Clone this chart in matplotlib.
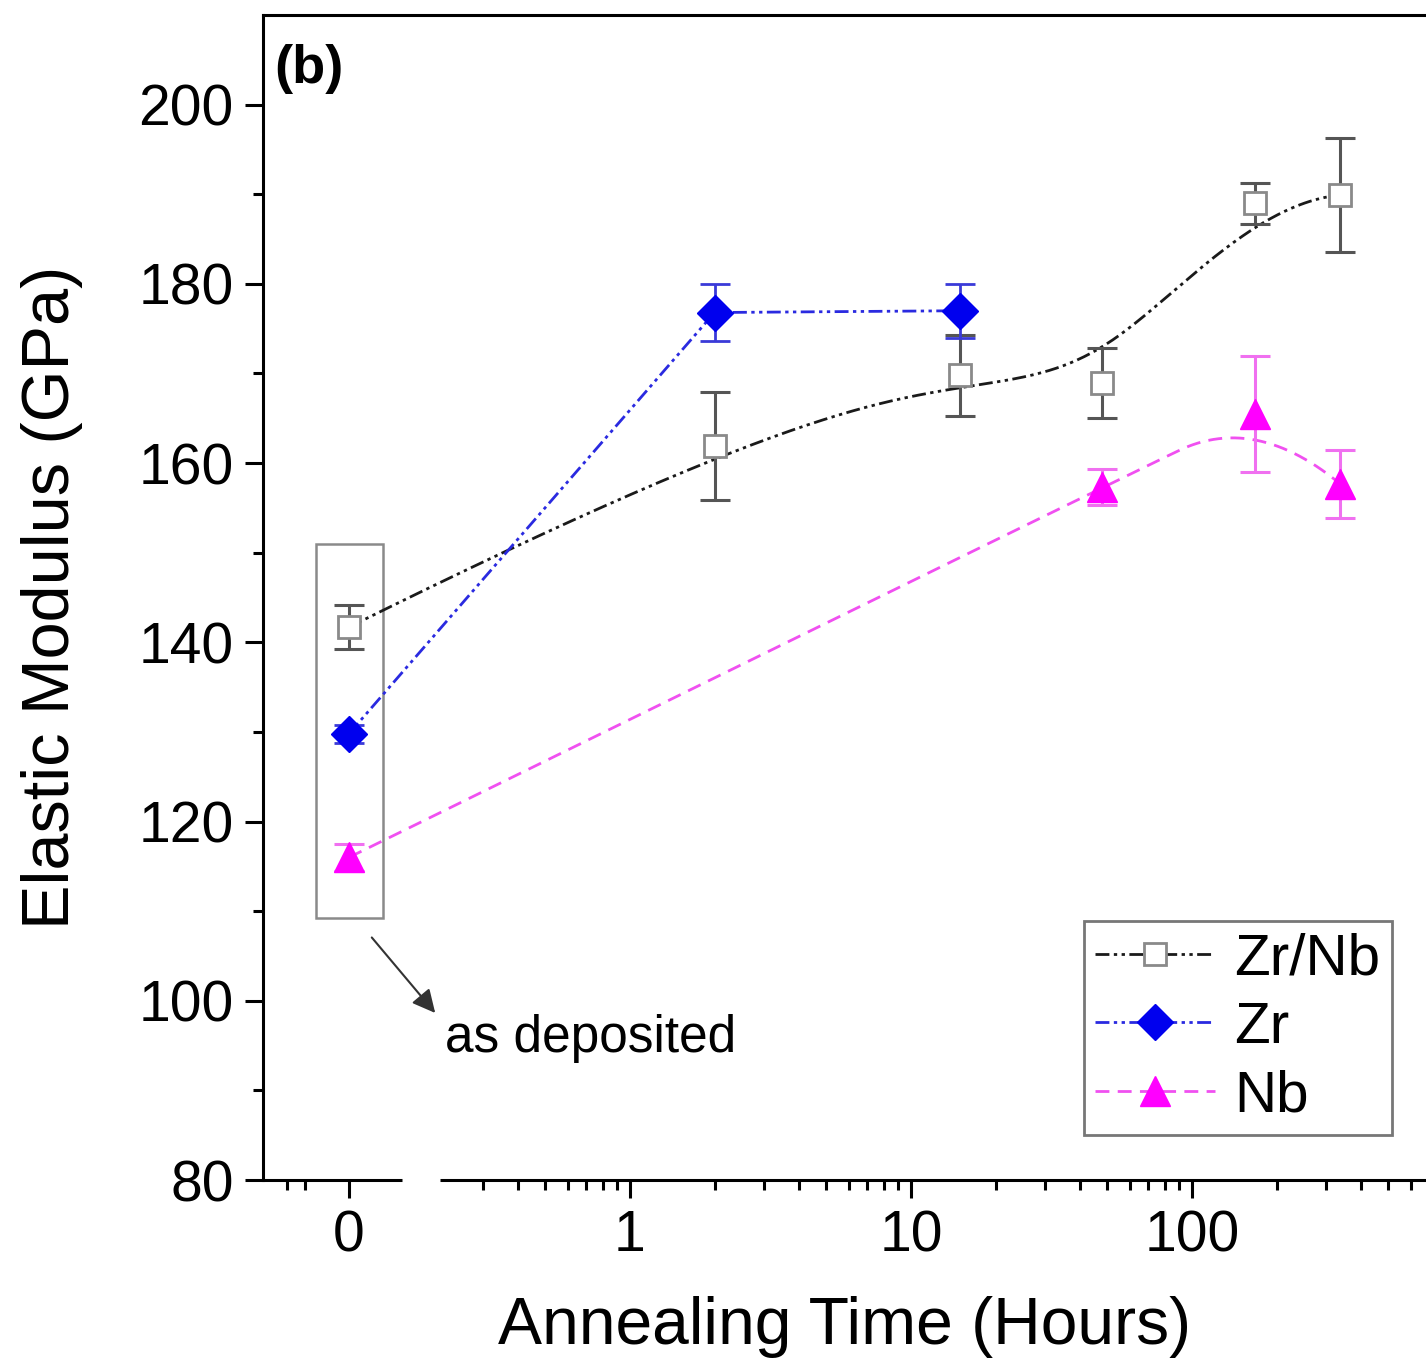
import matplotlib.pyplot as plt
import matplotlib.lines as mlines
from matplotlib.patches import Rectangle
from matplotlib.ticker import FixedLocator, NullFormatter
import numpy as np

plt.rcParams['font.family'] = ['Liberation Sans', 'DejaVu Sans']

# annealing time (hours) and elastic modulus (GPa)
t_zrnb = [0, 2, 15, 48, 168, 336]
e_zrnb = [141.7, 161.9, 169.8, 168.9, 189.0, 189.9]
err_zrnb = [2.5, 6.0, 4.5, 3.9, 2.3, 6.4]

t_zr = [0, 2, 15]
e_zr = [129.8, 176.8, 177.0]
err_zr = [1.0, 3.2, 3.0]

t_nb = [0, 48, 168, 336]
e_nb = [116.0, 157.3, 165.5, 157.7]
err_nb = [1.5, 2.0, 6.5, 3.8]

x_ticklabels = ['0', '1', '10', '100']
x_tickhours = [0, 1, 10, 100]

ZERO_POS = -1.0   # where "0 h" sits on the broken axis (log10 units)


def xpos(t):
    # broken axis: 0 h gets its own little segment, the rest is log10
    t = np.asarray(t, dtype=float)
    out = np.full(t.shape, ZERO_POS)
    pos = t > 0
    out[pos] = np.log10(t[pos])
    return out


def bspline(px, py, k=2, n=300):
    # clamped uniform B-spline using the points as control points (Origin style)
    P = np.column_stack([px, py])
    m = len(P)
    knots = np.concatenate([np.zeros(k), np.arange(m - k + 1), np.full(k, m - k)]).astype(float)
    u = np.linspace(0, m - k, n)
    u[-1] -= 1e-9

    def basis(i, d, u):
        if d == 0:
            return np.where((knots[i] <= u) & (u < knots[i + 1]), 1.0, 0.0)
        a = 0.0
        b = 0.0
        if knots[i + d] != knots[i]:
            a = (u - knots[i]) / (knots[i + d] - knots[i]) * basis(i, d - 1, u)
        if knots[i + d + 1] != knots[i + 1]:
            b = (knots[i + d + 1] - u) / (knots[i + d + 1] - knots[i + 1]) * basis(i + 1, d - 1, u)
        return a + b

    N = np.array([basis(i, k, u) for i in range(m)])
    c = N.T @ P
    return c[:, 0], c[:, 1]


fig = plt.figure(figsize=(14.26, 13.59), dpi=100)
ax = fig.add_axes([263 / 1426, 1 - 1180 / 1359, 1 - 263 / 1426, (1180 - 15) / 1359])

x_lo = ZERO_POS - 86 / 281
x_hi = ZERO_POS + 1077 / 281
ax.set_xlim(x_lo, x_hi)
ax.set_ylim(80, 210)

zr_dash = (5, 1.6, 1.2, 1.6, 1.2, 1.6)
zrnb_dash = (5, 1.6, 1.2, 1.6, 1.2, 1.6)

# Zr/Nb: smooth B-spline connection
bx, by = bspline(xpos(t_zrnb), e_zrnb, k=3)
ax.plot(bx, by, color='#1a1a1a', lw=2.0, dashes=zrnb_dash, zorder=2)
ax.errorbar(xpos(t_zrnb), e_zrnb, yerr=err_zrnb, fmt='none', ecolor='#555555',
            elinewidth=2.2, capsize=11, capthick=2.2, zorder=3)
ax.plot(xpos(t_zrnb), e_zrnb, ls='none', marker='s', ms=16, mfc='white',
        mec='#8a8a8a', mew=2, zorder=4)

# Zr: straight segments
ax.errorbar(xpos(t_zr), e_zr, yerr=err_zr, fmt='none', ecolor='#3a3ad8',
            elinewidth=2.0, capsize=11, capthick=2.0, zorder=3)
ax.plot(xpos(t_zr), e_zr, color='#2a2ae0', lw=2.0, dashes=zr_dash,
        marker='D', ms=18, mfc='#0000ee', mec='#0000ee', zorder=4)

# Nb: smooth B-spline connection
nx, ny = bspline(xpos(t_nb), e_nb, k=2)
ax.plot(nx, ny, color='#f050f0', lw=2.0, dashes=(5, 3), zorder=2)
ax.errorbar(xpos(t_nb), e_nb, yerr=err_nb, fmt='none', ecolor='#f070f0',
            elinewidth=2.2, capsize=11, capthick=2.2, zorder=3)
ax.plot(xpos(t_nb), e_nb, ls='none', marker='^', ms=21, mfc='#ff00ff',
        mec='#ff00ff', zorder=4)

# axes styling
ax.spines['right'].set_visible(False)
ax.spines['bottom'].set_visible(False)
ax.spines['left'].set_linewidth(2.2)
ax.spines['top'].set_linewidth(2.2)

# broken bottom axis drawn as two pieces
seg_left = (x_lo, ZERO_POS + 53 / 281)
seg_right = (ZERO_POS + 91 / 281, x_hi)
for a, b in (seg_left, seg_right):
    ax.plot([a, b], [0, 0], color='black', lw=2.2, transform=ax.get_xaxis_transform(),
            clip_on=False, solid_capstyle='butt', zorder=5)

ax.xaxis.set_major_locator(FixedLocator(xpos(x_tickhours)))
ax.set_xticklabels(x_ticklabels)
minor_h = [m * 10.0 ** e for e in range(-1, 3) for m in range(2, 10)]
minor_x = [p for p in np.log10(minor_h) if seg_right[0] < p < x_hi]
minor_x += [ZERO_POS - 62 / 281, ZERO_POS - 44 / 281]
ax.xaxis.set_minor_locator(FixedLocator(minor_x))
ax.xaxis.set_minor_formatter(NullFormatter())

ax.yaxis.set_major_locator(FixedLocator(range(80, 201, 20)))
ax.yaxis.set_minor_locator(FixedLocator(range(90, 201, 20)))

ax.tick_params(which='both', direction='out', width=2.2, labelsize=41, top=False, right=False)
ax.tick_params(which='major', length=13, pad=8)
ax.tick_params(which='minor', length=7)

ax.set_xlabel('Annealing Time (Hours)', fontsize=47.5, labelpad=24)
ax.set_ylabel('Elastic Modulus (GPa)', fontsize=48, labelpad=40)

# annotations
ax.text(0.01, 0.975, '(b)', transform=ax.transAxes, fontsize=39, fontweight='bold',
        va='top', ha='left')
ax.add_patch(Rectangle((ZERO_POS - 33 / 281, 109.2), 67 / 281, 41.8, fill=False,
                       edgecolor='#8a8a8a', lw=1.8, zorder=1))
ax.annotate('', xy=(ZERO_POS + 88 / 281, 98.4), xytext=(ZERO_POS + 21 / 281, 107.3),
            arrowprops=dict(arrowstyle='-|>', color='#333333', lw=1.5,
                            mutation_scale=35))
ax.text(ZERO_POS + 96 / 281, 95.8, 'as deposited', fontsize=37, va='center', ha='left')

# legend
h1 = mlines.Line2D([], [], color='#1a1a1a', lw=2.0, dashes=zrnb_dash, marker='s', ms=16,
                   mfc='white', mec='#8a8a8a', mew=2)
h2 = mlines.Line2D([], [], color='#2a2ae0', lw=2.0, dashes=zr_dash, marker='D', ms=18,
                   mfc='#0000ee', mec='#0000ee')
h3 = mlines.Line2D([], [], color='#f050f0', lw=2.0, dashes=(5, 3), marker='^', ms=21,
                   mfc='#ff00ff', mec='#ff00ff')
leg = ax.legend([h1, h2, h3], ['Zr/Nb', 'Zr', 'Nb'], loc='lower right',
                bbox_to_anchor=(1129 / 1163, 45 / 1165), borderaxespad=0, fontsize=42,
                handlelength=2.05, handletextpad=0.33, labelspacing=0.25, borderpad=0.2,
                fancybox=False, framealpha=1)
leg.get_frame().set_edgecolor('#777777')
leg.get_frame().set_linewidth(2)

fig.savefig('out.png', dpi=100)
